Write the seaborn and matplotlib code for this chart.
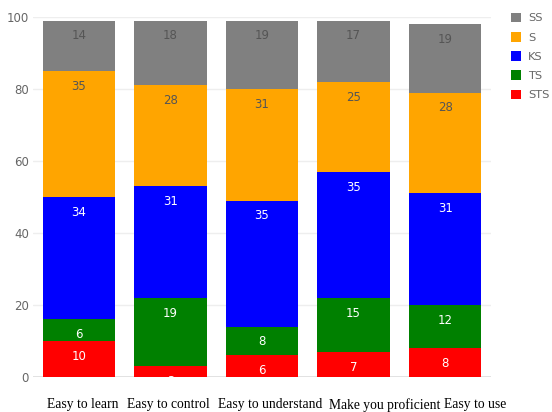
import matplotlib
matplotlib.use("Agg")
import matplotlib.pyplot as plt
import matplotlib.transforms as mtransforms
from matplotlib.patches import Patch
import numpy as np
import pandas as pd
import seaborn as sns

categories = ["Easy to learn", "Easy to control", "Easy to understand",
              "Make you proficient", "Easy to use"]
series_names = ["STS", "TS", "KS", "S", "SS"]
sts = [10, 3, 6, 7, 8]
ts = [6, 19, 8, 15, 12]
ks = [34, 31, 35, 35, 31]
s = [35, 28, 31, 25, 28]
ss = [14, 18, 19, 17, 19]
colors = ["#FF0000", "#008000", "#0000FF", "#FFA500", "#808080"]
label_colors = ["white", "white", "white", "#555555", "#555555"]
y_ticks = [0, 20, 40, 60, 80, 100]

values = np.array([sts, ts, ks, s, ss], dtype=float)
tops = values.cumsum(axis=0)

sns.set_style("white")
fig = plt.figure(figsize=(5.52, 4.12), dpi=100)
ax = fig.add_axes([33 / 552, 35 / 412, (491 - 33) / 552, 360 / 412])

# Stacked bars: draw the cumulative heights from the tallest layer down
for i in range(len(series_names) - 1, -1, -1):
    df = pd.DataFrame({"category": categories, "top": tops[i]})
    sns.barplot(data=df, x="category", y="top", color=colors[i],
                saturation=1, width=0.79, linewidth=0, ax=ax, zorder=2)

# Value labels just inside the top of each segment
for i in range(len(series_names)):
    for j, cat in enumerate(categories):
        ax.annotate(f"{int(values[i, j])}", xy=(j, tops[i, j]),
                    xytext=(0, -11), textcoords="offset points",
                    ha="center", va="center", fontsize=8.5,
                    color=label_colors[i], clip_on=True, zorder=3)

ax.set_xlim(-0.5, 4.5)
ax.set_ylim(0, 100)
ax.set_yticks(y_ticks)
ax.set_yticklabels([str(t) for t in y_ticks])
ax.set_xlabel("")
ax.set_ylabel("")
for sp in ax.spines.values():
    sp.set_visible(False)
ax.yaxis.grid(True, color="#eeeeee", linewidth=1, zorder=0)
ax.axhline(0, color="#dddddd", linewidth=1.2, zorder=1)
ax.set_axisbelow(True)
ax.tick_params(axis="y", length=0, pad=3, labelsize=8.5, labelcolor="#666666")
ax.tick_params(axis="x", length=0, pad=15, labelsize=9.8, labelcolor="black")

# Category captions run as one line of text, so nudge each one along
shifts_px = [4, -2, 8, 31, 30]
for lbl, dx in zip(ax.get_xticklabels(), shifts_px):
    lbl.set_fontfamily("Liberation Serif")
    lbl.set_transform(lbl.get_transform() +
                      mtransforms.ScaledTranslation(dx / 100, 0, fig.dpi_scale_trans))

handles = [Patch(facecolor=colors[i], edgecolor="none", label=series_names[i])
           for i in range(len(series_names) - 1, -1, -1)]
leg = fig.legend(handles=handles, loc="upper left", bbox_to_anchor=(506 / 552, 1 - 8 / 412),
                 frameon=False, fontsize=8.2, handlelength=0.95, handleheight=0.95,
                 handletextpad=0.6, labelspacing=0.74, borderaxespad=0)
for t in leg.get_texts():
    t.set_color("#666666")

fig.savefig("out.png", dpi=100)
